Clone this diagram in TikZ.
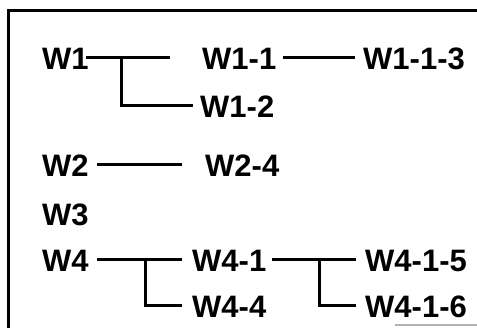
\documentclass[tikz,border=0pt]{standalone}
\usepackage{fontspec}
\setmainfont{Liberation Sans}
\usetikzlibrary{calc}

\begin{document}
\begin{tikzpicture}[
    x=1pt, y=-1pt,
    item/.style={inner sep=0pt, anchor=west, text height=22.2pt, text depth=0pt,
                 font=\fontsize{31}{31}\selectfont\bfseries},
    link/.style={line width=3pt},
    frame/.style={line width=3pt}
]
\useasboundingbox (0,0) rectangle (477,328);
% frame (cut off on the right and below)
\draw[frame] (8,328) -- (8,11) -- (477,11);
\draw[gray!60, line width=2pt] (395,325) -- (477,325);

\node[item] (w1)   at (42,58)  {W1};
\node[item] (w11)  at (202,58) {W1-1};
\node[item] (w113) at (363,58) {W1-1-3};
\node[item] (w12)  at (200,106) {W1-2};
\node[item] (w2)   at (42,165) {W2};
\node[item] (w24)  at (205,165) {W2-4};
\node[item] (w3)   at (42,214) {W3};
\node[item] (w4)   at (42,260) {W4};
\node[item] (w41)  at (192,260) {W4-1};
\node[item] (w44)  at (192,306) {W4-4};
\node[item] (w415) at (365,260) {W4-1-5};
\node[item] (w416) at (365,306) {W4-1-6};

\coordinate (j1) at (121,58);
\coordinate (j4) at (145,260);
\coordinate (j41) at (319,260);

\draw[link] ([xshift=-2.5]w1.east) -- ([xshift=-32]w11.west);
\draw[link] (j1) |- ([xshift=-7]w12.west);
\draw[link] ([xshift=7]w11.east) -- ([xshift=-8]w113.west);
\draw[link] ([xshift=8.5]w2.east) -- ([xshift=-23]w24.west);
\draw[link] ([xshift=8.5]w4.east) -- ([xshift=-10]w41.west);
\draw[link] (j4) |- ([xshift=-10]w44.west);
\draw[link] ([xshift=6]w41.east) -- ([xshift=-9]w415.west);
\draw[link] (j41) |- ([xshift=-9]w416.west);
\end{tikzpicture}
\end{document}
